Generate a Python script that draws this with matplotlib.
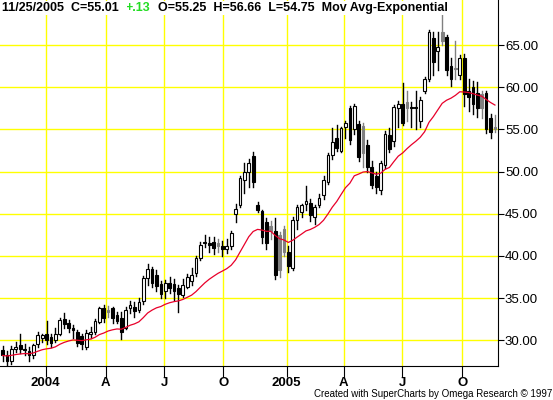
import matplotlib
matplotlib.use("Agg")
import matplotlib.pyplot as plt
import pandas as pd
from matplotlib.patches import Rectangle

O = [28.8,28.2,27.6,29.0,29.4,29.0,28.7,28.3,29.5,30.3,30.8,30.4,30.0,30.8,32.5,32.0,31.5,31.0,30.5,29.2,30.8,31.0,32.2,33.8,33.6,33.8,33.0,
     32.6,31.5,33.8,34.0,33.6,34.6,37.4,38.5,37.8,36.7,35.8,36.8,36.7,
     36.2,35.4,36.3,37.0,38.0,39.8,41.5,41.5,41.6,41.5,41.2,40.8,41.2,
     45.0,46.0,49.0,50.0,51.8,46.0,45.3,44.0,43.5,43.0,42.5,43.2,40.5,
     38.6,44.3,45.2,46.2,46.3,44.6,46.0,47.2,48.8,52.0,54.0,52.5,55.3,
     57.5,55.0,55.6,55.4,53.2,50.5,49.5,47.8,50.8,54.3,53.6,57.6,
     58.0,58.2,57.7,57.6,56.0,59.5,61.0,65.8,64.3,66.5,66.0,62.5,62.3,61.5,
     63.5,59.6,60.0,59.3,59.2,59.3,56.4,55.25]
H = [29.3,28.7,29.3,29.8,30.8,29.6,29.2,29.6,31.0,30.8,32.3,30.8,31.5,32.6,33.2,32.4,31.8,31.2,30.8,31.2,31.6,32.5,34.0,34.2,34.1,34.0,33.3,
     33.3,33.9,34.6,34.5,35.0,37.6,39.0,38.7,38.3,37.0,37.2,37.5,37.3,
     36.5,37.3,37.9,38.6,40.0,41.6,42.5,42.3,42.3,42.0,41.8,42.0,43.0,
     46.2,49.5,51.0,51.5,52.3,46.4,45.5,44.5,44.2,44.5,42.8,43.5,41.2,
     44.6,46.0,46.2,48.3,46.8,46.0,47.3,49.5,52.2,55.2,55.5,55.3,56.0,
     57.8,58.0,56.0,55.8,53.7,51.3,50.0,51.3,54.8,55.2,57.9,58.4,
     60.5,59.6,58.3,59.6,58.8,61.2,66.8,66.5,66.5,69.0,66.2,63.5,65.5,63.8,
     64.0,61.0,60.8,60.6,59.5,59.5,56.8,56.66]
L = [27.6,26.8,27.2,28.6,28.5,28.2,27.6,27.9,29.2,29.8,29.6,29.2,29.8,30.6,31.5,31.0,30.3,29.3,29.0,29.0,30.3,30.8,32.0,32.2,32.8,32.1,32.0,
     30.2,31.3,33.2,32.8,33.3,34.3,36.5,36.3,35.8,35.0,35.0,35.6,34.8,
     33.4,35.1,36.2,36.5,37.6,39.5,41.1,40.5,40.2,40.5,40.0,40.3,40.8,
     44.0,45.8,47.5,48.2,48.2,45.2,41.5,40.8,42.0,37.3,37.5,40.0,38.1,
     38.3,43.2,44.6,45.5,44.2,43.8,45.8,46.8,48.5,51.5,52.5,52.3,54.0,
     53.3,54.5,51.2,50.6,50.0,48.0,47.5,47.4,50.4,52.3,53.0,55.3,
     55.5,56.0,55.3,55.0,55.3,59.3,60.8,61.5,62.0,65.0,61.5,60.2,61.0,61.0,
     57.8,57.2,56.8,56.5,56.4,54.6,54.0,54.75]
C = [28.2,27.5,29.0,29.2,29.0,28.9,28.2,29.4,30.6,30.6,30.0,29.7,30.8,32.4,31.9,31.5,31.2,29.7,29.5,30.9,31.0,32.3,33.8,32.6,33.4,32.6,32.3,
     31.0,33.6,34.2,33.5,34.5,37.4,38.5,36.8,36.4,35.5,36.8,36.2,35.8,
     35.5,36.5,37.5,37.8,39.8,41.3,41.6,41.3,41.0,41.2,40.8,41.2,42.7,
     45.6,49.2,50.0,51.0,48.8,45.5,42.3,41.5,43.0,37.8,38.3,40.5,38.8,
     44.3,45.8,46.0,46.5,44.8,45.8,46.9,49.0,52.0,53.5,52.8,55.2,55.8,
     53.7,57.8,51.7,52.2,50.5,48.4,48.2,51.0,54.5,52.7,57.7,58.0,
     55.8,57.6,57.6,57.5,58.5,61.0,66.5,63.0,64.8,65.5,62.0,61.0,62.2,63.5,
     59.2,58.8,58.0,57.5,57.6,55.0,54.7,55.01]
quarter_pos = [9.8, 23.5, 36.8, 50.2, 64.6, 77.6, 90.9, 104.6]
quarter_labels = ["2004", "A", "J", "O", "2005", "A", "J", "O"]
price_ticks = [30, 35, 40, 45, 50, 55, 60, 65]

ema = pd.Series(C).ewm(span=20, adjust=False).mean()

plt.rcParams["font.family"] = ["Liberation Sans", "DejaVu Sans"]
fig = plt.figure(figsize=(5.53, 4.0), dpi=100)
ax = fig.add_axes([0, 1 - 366/400, 498/553, 366/400])
ax.set_xlim(-0.6, 112.7)
ax.set_ylim(26.95, 70.35)
for p in quarter_pos:
    ax.axvline(p, color="#ffff00", lw=1, zorder=0)
for t in price_ticks:
    ax.axhline(t, color="#ffff00", lw=1, zorder=0)

w = 0.62
for i in range(len(C)):
    o, h, l, c = O[i], H[i], L[i], C[i]
    if c >= o:
        fc, ec = "white", "black"
    elif i > 0 and c > C[i-1]:
        fc, ec = "#808080", "#808080"
    else:
        fc, ec = "black", "black"
    ax.plot([i, i], [l, h], color=ec, lw=1, zorder=2)
    bot, top = min(o, c), max(o, c)
    ax.add_patch(Rectangle((i - w/2, bot), w, max(top - bot, 0.12), facecolor=fc, edgecolor=ec, lw=0.8, zorder=3))

ax.plot(range(len(C)), ema, color="#e8002a", lw=0.9, zorder=4)

for s in ["top", "left"]:
    ax.spines[s].set_visible(False)
ax.yaxis.tick_right()
ax.set_yticks(price_ticks)
ax.set_yticklabels([f"{t:.2f}" for t in price_ticks], fontsize=9.5)
ax.tick_params(axis="y", length=4, pad=1, direction="out")
ax.set_xticks(quarter_pos)
ax.set_xticklabels(quarter_labels, fontsize=9.5, fontweight="bold")
ax.tick_params(axis="x", length=8, pad=0, direction="out")

hdr = dict(fontsize=9, fontweight="bold", va="top", ha="left",
           bbox=dict(facecolor="white", edgecolor="none", pad=0.6))
t1 = fig.text(0.004, 0.995, "11/25/2005  C=55.01  ", **hdr)
t2 = ax.annotate("+.13", xy=(1, 0), xycoords=t1, va="bottom", ha="left", color="#22dd22",
                 fontsize=9, fontweight="bold", bbox=dict(facecolor="white", edgecolor="none", pad=0.6))
t3 = ax.annotate("  O=55.25  H=56.66  L=54.75  Mov Avg-Exponential", xy=(1, 0), xycoords=t2,
                 va="bottom", ha="left", fontsize=9, fontweight="bold",
                 bbox=dict(facecolor="white", edgecolor="none", pad=0.6))
fig.text(0.998, 0.003, "Created with SuperCharts by Omega Research \u00a9 1997", fontsize=7, ha="right", va="bottom")
fig.savefig("out.png", dpi=100, facecolor="white")
